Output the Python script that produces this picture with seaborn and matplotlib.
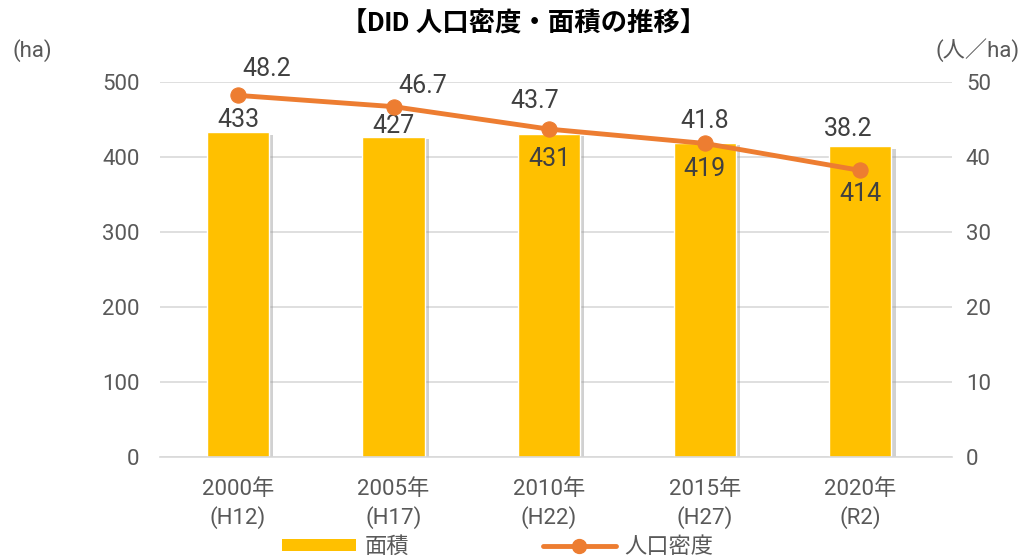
import matplotlib
matplotlib.use("Agg")
import matplotlib.pyplot as plt
import matplotlib.patheffects as pe
from matplotlib.lines import Line2D
from matplotlib.patches import Patch
from matplotlib import font_manager
import seaborn as sns
import pandas as pd

categories = ["2000年\n(H12)", "2005年\n(H17)", "2010年\n(H22)", "2015年\n(H27)", "2020年\n(R2)"]
area = [433, 427, 431, 419, 414]
density = [48.2, 46.7, 43.7, 41.8, 38.2]
left_ticks = [0, 100, 200, 300, 400, 500]
right_ticks = [0, 10, 20, 30, 40, 50]

sns.set_theme(style="white")
names = {f.name for f in font_manager.fontManager.ttflist}
narrow = "Liberation Sans Narrow" if "Liberation Sans Narrow" in names else "Roboto"
plt.rcParams['font.family'] = [narrow, 'Noto Sans CJK JP', 'DejaVu Sans']

BAR = "#FFC000"
LINE = "#ED7D31"
TXT = "#595959"

fig = plt.figure(figsize=(10.27, 5.57), dpi=100)
ax = fig.add_axes([0.156, 0.1795, 0.771, 0.6735])
df = pd.DataFrame({"cat": categories, "area": area})
sns.barplot(data=df, x="cat", y="area", color=BAR, width=0.4, ax=ax,
            saturation=1, zorder=2)
for p in ax.patches:
    p.set_path_effects([pe.SimplePatchShadow(offset=(3, -2), shadow_rgbFace="#999999", alpha=0.45), pe.Normal()])

ax.set_ylim(0, 500)
ax.set_xlim(-0.5, 4.59)
ax.set_yticks(left_ticks)
ax.yaxis.grid(True, color="#D9D9D9", lw=1.2, zorder=0)
ax.set_axisbelow(True)
for s in ["top", "right", "left"]:
    ax.spines[s].set_visible(False)
ax.spines["bottom"].set_color("#D9D9D9")
ax.spines["bottom"].set_linewidth(1.2)
ax.set_xlabel("")
ax.set_ylabel("")
ax.tick_params(axis="both", colors=TXT, labelsize=16, length=0)
ax.tick_params(axis="y", pad=15)
ax.tick_params(axis="x", pad=16)
for lab in ax.get_xticklabels():
    lab.set_linespacing(1.3)

ax2 = ax.twinx()
sns.lineplot(x=list(range(len(density))), y=density, ax=ax2, color=LINE, lw=3.5,
             marker="o", markersize=11, markeredgecolor=LINE, zorder=5)
ax2.set_ylim(0, 50)
ax2.set_yticks(right_ticks)
for s in ["top", "right", "left", "bottom"]:
    ax2.spines[s].set_visible(False)
ax2.tick_params(axis="y", colors=TXT, labelsize=16, length=0, pad=10)
ax2.set_ylabel("")
ax2.grid(False)

bar_off = [(0, 9), (0, 8), (0, -18), (0, -19), (0, -34)]
for i, (v, off) in enumerate(zip(area, bar_off)):
    ax.annotate(f"{v}", (i, v), xytext=off, textcoords="offset points",
                ha="center", va="center", fontsize=18, color="#404040", zorder=6)
line_off = [(21, 19), (21, 15), (-10, 20), (0, 16), (-9, 30)]
for i, (v, off) in enumerate(zip(density, line_off)):
    ax2.annotate(f"{v}", (i, v), xytext=off, textcoords="offset points",
                 ha="center", va="center", fontsize=18, color="#404040", zorder=6)

fig.text(0.51, 0.957, "【DID 人口密度・面積の推移】", ha="center", va="center",
         fontsize=19, fontweight="bold", color="#000000")
fig.text(0.031, 0.91, "(ha)", ha="center", va="center", fontsize=16, color=TXT)
fig.text(0.952, 0.91, "(人／ha)", ha="center", va="center", fontsize=16, color=TXT)

handles = [Patch(facecolor=BAR, edgecolor="none", label="面積"),
           Line2D([0], [0], color=LINE, lw=3.5, marker="o", markersize=10, label="人口密度")]
fig.legend(handles=handles, loc="center", bbox_to_anchor=(0.485, 0.017), ncol=2, frameon=False,
           fontsize=16, handlelength=3.3, handleheight=0.5, columnspacing=6.0,
           handletextpad=0.4, labelcolor=TXT)

fig.savefig("out.png", dpi=100)
